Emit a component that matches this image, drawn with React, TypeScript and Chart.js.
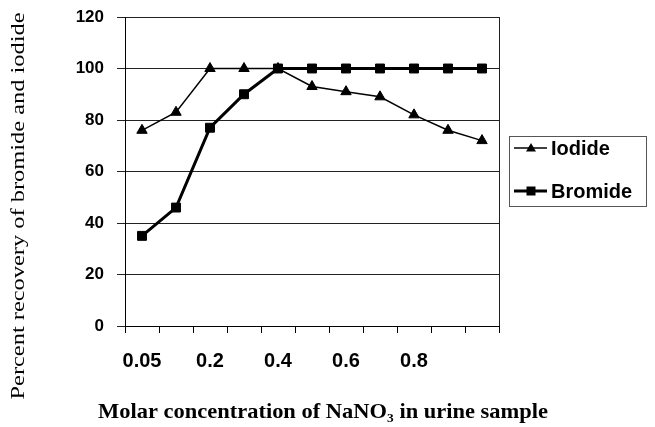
import React, { useEffect, useRef } from 'react';
import { Chart, registerables } from 'chart.js';

Chart.register(...registerables);

const categories = ['0.05', '0.1', '0.2', '0.3', '0.4', '0.5', '0.6', '0.7', '0.8', '0.9', '1.0'];
const tickLabels = ['0.05', '', '0.2', '', '0.4', '', '0.6', '', '0.8', '', ''];
const iodide = [76, 83, 100, 100, 100, 93, 91, 89, 82, 76, 72];
const bromide = [35, 46, 77, 90, 100, 100, 100, 100, 100, 100, 100];
const yMin = 0;
const yMax = 120;
const yStep = 20;
const seriesNames = ['Iodide', 'Bromide'];
const xTitle = 'Molar concentration of NaNO\u2083 in urine sample';
const yTitle = 'Percent recovery of bromide and iodide';

const SANS = '"Liberation Sans", Arial, sans-serif';
const SERIF = '"Liberation Serif", "Times New Roman", serif';

function fitText(
  ctx: CanvasRenderingContext2D,
  text: string,
  x: number,
  y: number,
  font: string,
  width: number,
  rotate: boolean
) {
  ctx.save();
  ctx.font = font;
  ctx.fillStyle = '#000';
  ctx.textAlign = 'center';
  ctx.textBaseline = 'alphabetic';
  ctx.translate(x, y);
  if (rotate) ctx.rotate(-Math.PI / 2);
  const w = ctx.measureText(text).width;
  ctx.scale(width / w, 1);
  ctx.fillText(text, 0, 0);
  ctx.restore();
}

function drawMarker(ctx: CanvasRenderingContext2D, style: string, x: number, y: number) {
  ctx.beginPath();
  if (style === 'triangle') {
    ctx.moveTo(x, y - 5);
    ctx.lineTo(x + 5, y + 3.5);
    ctx.lineTo(x - 5, y + 3.5);
    ctx.closePath();
  } else {
    ctx.rect(x - 4.5, y - 4.5, 9, 9);
  }
  ctx.fill();
}

const decor = {
  id: 'decor',
  beforeDatasetsDraw(chart: any) {
    const { ctx, chartArea: a } = chart;
    ctx.save();
    ctx.strokeStyle = '#222';
    ctx.lineWidth = 1;
    const x = Math.round(a.right) + 0.5;
    ctx.beginPath();
    ctx.moveTo(x, a.top);
    ctx.lineTo(x, a.bottom);
    ctx.stroke();
    ctx.restore();
  },
  afterDraw(chart: any) {
    const ctx: CanvasRenderingContext2D = chart.ctx;
    // axis titles
    fitText(ctx, xTitle, 323, 418, 'bold 21px ' + SERIF, 450, false);
    fitText(ctx, yTitle, 24, 206, '18px ' + SERIF, 387, true);
    // legend
    ctx.save();
    ctx.strokeStyle = '#555';
    ctx.lineWidth = 1;
    ctx.strokeRect(509.5, 136.5, 137, 70);
    const styles = ['triangle', 'rect'];
    const widths = [1.5, 3];
    const rowsY = [148, 191];
    ctx.fillStyle = '#000';
    ctx.strokeStyle = '#000';
    seriesNames.forEach((name, i) => {
      const y = rowsY[i];
      ctx.lineWidth = widths[i];
      ctx.beginPath();
      ctx.moveTo(514, y);
      ctx.lineTo(547, y);
      ctx.stroke();
      drawMarker(ctx, styles[i], 531, y);
      ctx.font = 'bold 20px ' + SANS;
      ctx.textAlign = 'left';
      ctx.textBaseline = 'middle';
      ctx.fillText(name, 551, y + 1);
    });
    ctx.restore();
  },
};

export default function App() {
  const ref = useRef<HTMLCanvasElement>(null);

  useEffect(() => {
    if (!ref.current) return;
    Chart.defaults.font.family = SANS;
    const chart = new Chart(ref.current, {
      type: 'line',
      data: {
        labels: categories,
        datasets: [
          {
            label: seriesNames[0],
            data: iodide,
            borderColor: '#000',
            backgroundColor: '#000',
            borderWidth: 1.5,
            pointStyle: 'triangle',
            pointRadius: 6,
            pointBorderWidth: 1,
            pointBackgroundColor: '#000',
            pointBorderColor: '#000',
            tension: 0,
            order: 1,
          },
          {
            label: seriesNames[1],
            data: bromide,
            borderColor: '#000',
            backgroundColor: '#000',
            borderWidth: 3,
            pointStyle: 'rect',
            pointRadius: 6.3,
            pointBorderWidth: 1,
            pointBackgroundColor: '#000',
            pointBorderColor: '#000',
            tension: 0,
            order: 0,
          },
        ],
      },
      options: {
        responsive: false,
        animation: false,
        devicePixelRatio: 1,
        layout: { padding: { top: 17, right: 156, bottom: 0, left: 0 } },
        plugins: {
          legend: { display: false },
          tooltip: { enabled: false },
        },
        scales: {
          x: {
            type: 'category',
            offset: true,
            grid: {
              offset: true,
              drawOnChartArea: false,
              drawTicks: true,
              tickLength: 7,
              color: '#000',
            },
            border: { display: true, color: '#000', width: 1 },
            ticks: {
              autoSkip: false,
              maxRotation: 0,
              minRotation: 0,
              padding: 16,
              color: '#000',
              font: { size: 20, weight: 'bold', family: SANS },
              callback: (_v: any, i: number) => tickLabels[i],
            },
            afterFit: (s: any) => {
              s.height = 101;
            },
          },
          y: {
            min: yMin,
            max: yMax,
            ticks: {
              stepSize: yStep,
              padding: 13,
              color: '#000',
              font: { size: 17, weight: 'bold', family: SANS },
            },
            grid: {
              color: '#222',
              lineWidth: 1,
              drawTicks: true,
              tickLength: 8,
            },
            border: { display: true, color: '#000', width: 1 },
            afterFit: (s: any) => {
              s.width = 125;
              s.paddingTop = 0;
              s.paddingBottom = 0;
            },
          },
        },
      },
      plugins: [decor],
    });
    return () => chart.destroy();
  }, []);

  return (
    <div style={{ position: 'absolute', left: 0, top: 0, width: 655, height: 427, background: '#fff' }}>
      <canvas ref={ref} width={655} height={427} style={{ width: 655, height: 427, display: 'block' }} />
    </div>
  );
}
